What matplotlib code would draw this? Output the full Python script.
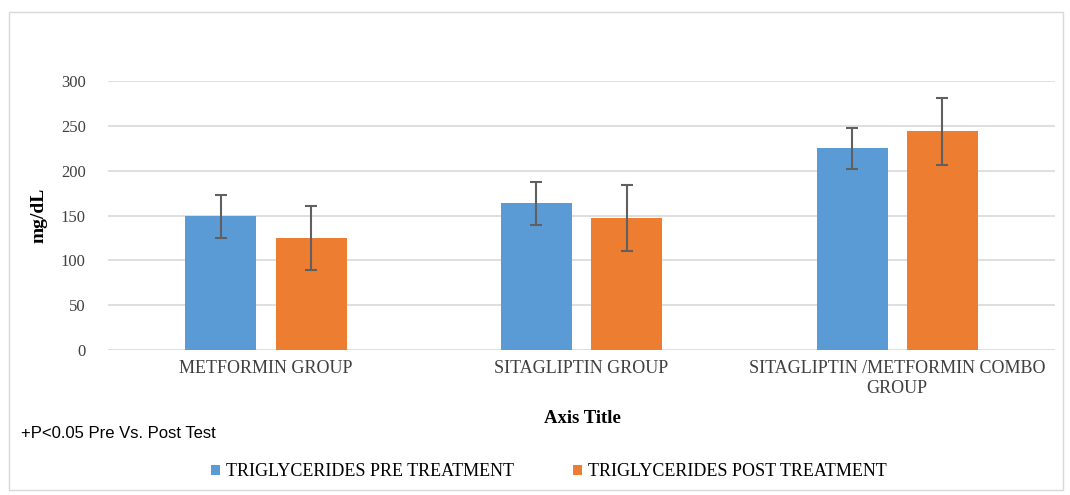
import numpy as np
from matplotlib import pyplot as plt
from matplotlib.patches import Rectangle

groups = ["METFORMIN GROUP", "SITAGLIPTIN GROUP", "SITAGLIPTIN /METFORMIN COMBO\nGROUP"]
pre = [149, 164, 225]
pre_err = [24, 24, 23]
post = [125, 147, 244]
post_err = [36, 37, 37]
yticks = [0, 50, 100, 150, 200, 250, 300]

serif = "Liberation Serif"

fig = plt.figure(figsize=(10.7, 4.95), dpi=100)
ax = fig.add_axes([0.101, 0.293, 0.885, 0.543])

# frame round the whole chart
fig.patches.append(Rectangle((0.008, 0.01), 0.985, 0.965, transform=fig.transFigure,
                             fill=False, edgecolor="#d9d9d9", linewidth=1))

x = np.arange(len(groups))
w = 0.225
off = 0.143
ekw = dict(ecolor="#606060", elinewidth=1.5, capsize=4, capthick=1.5)
ax.bar(x - off, pre, width=w, color="#5b9bd5", yerr=pre_err, error_kw=ekw,
       label="TRIGLYCERIDES PRE TREATMENT", zorder=3)
ax.bar(x + off, post, width=w, color="#ed7d31", yerr=post_err, error_kw=ekw,
       label="TRIGLYCERIDES POST TREATMENT", zorder=3)

ax.set_xlim(-0.5, len(groups) - 0.5)
ax.set_ylim(0, 300)
ax.set_yticks(yticks)
ax.set_yticklabels([str(t) for t in yticks], fontfamily=serif, fontsize=12, color="#404040")
ax.set_xticks(x)
ax.set_xticklabels(groups, fontfamily=serif, fontsize=13, color="#404040", linespacing=1.25)
ax.tick_params(axis="y", length=0, pad=16)
ax.tick_params(axis="x", length=0, pad=7)
ax.grid(axis="y", color="#d9d9d9", linewidth=1.2, zorder=0)
for s in ax.spines.values():
    s.set_visible(False)

ax.set_ylabel("mg/dL", fontfamily=serif, fontweight="bold", fontsize=14)
ax.yaxis.set_label_coords(-0.064, 0.5)
fig.text(0.544, 0.155, "Axis Title", fontfamily=serif, fontweight="bold", fontsize=13.5,
         ha="center", va="center")
fig.text(0.02, 0.125, "+P<0.05 Pre Vs. Post Test", fontfamily="Liberation Sans", fontsize=12,
         ha="left", va="center")

fig.legend(loc="center", bbox_to_anchor=(0.513, 0.047), ncol=2, frameon=False,
           prop={"family": serif, "size": 13}, handlelength=0.5, handleheight=0.5,
           columnspacing=3.3, handletextpad=0.3)

plt.savefig("out.png", dpi=100)
